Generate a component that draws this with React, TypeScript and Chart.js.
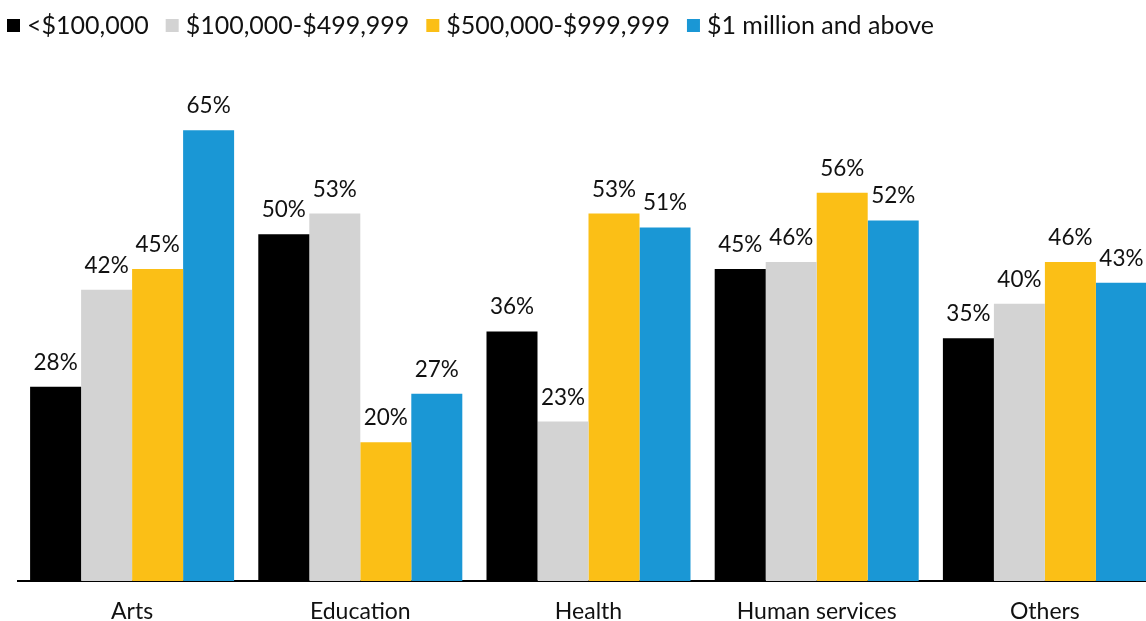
import React, { useEffect, useRef } from "react";
import { Chart, registerables } from "chart.js";

Chart.register(...registerables);

const categories = ["Arts", "Education", "Health", "Human services", "Others"];
const seriesLabels = ["<$100,000", "$100,000-$499,999", "$500,000-$999,999", "$1 million and above"];
const under100k = [28, 50, 36, 45, 35];
const from100kTo500k = [42, 53, 23, 46, 40];
const from500kTo1m = [45, 20, 53, 56, 46];
const over1m = [65, 27, 51, 52, 43];
const seriesColors = ["#000000", "#d3d3d3", "#fbbf16", "#1a97d5"];

const FONT = "Lato, 'Noto Sans', sans-serif";

const legendPlugin = {
  id: "customLegend",
  afterDraw(chart: any) {
    const ctx = chart.ctx;
    ctx.save();
    ctx.font = `25px ${FONT}`;
    ctx.textBaseline = "middle";
    ctx.textAlign = "left";
    let x = 7;
    const cy = 25;
    chart.data.datasets.forEach((ds: any) => {
      ctx.fillStyle = ds.backgroundColor;
      ctx.fillRect(x, cy - 6, 13, 13);
      x += 13 + 7;
      ctx.fillStyle = "#111";
      ctx.fillText(ds.label, x, cy + 1);
      x += ctx.measureText(ds.label).width + 17;
    });
    ctx.restore();
  },
};

const valueLabelPlugin = {
  id: "valueLabels",
  afterDatasetsDraw(chart: any) {
    const ctx = chart.ctx;
    ctx.save();
    ctx.font = `22.5px ${FONT}`;
    ctx.fillStyle = "#111";
    ctx.textAlign = "center";
    ctx.textBaseline = "alphabetic";
    chart.data.datasets.forEach((ds: any, i: number) => {
      const meta = chart.getDatasetMeta(i);
      meta.data.forEach((el: any, j: number) => {
        ctx.fillText(`${ds.data[j]}%`, el.x, el.y - 17);
      });
    });
    ctx.restore();
  },
};

export default function App() {
  const canvasRef = useRef<HTMLCanvasElement | null>(null);

  useEffect(() => {
    let chart: Chart | null = null;
    let cancelled = false;
    const build = () => {
      if (cancelled || !canvasRef.current) return;
      const seriesData = [under100k, from100kTo500k, from500kTo1m, over1m];
      chart = new Chart(canvasRef.current, {
        type: "bar",
        data: {
          labels: categories,
          datasets: seriesLabels.map((label, i) => ({
            label,
            data: seriesData[i],
            backgroundColor: seriesColors[i],
            borderWidth: 0,
            categoryPercentage: 0.894,
            barPercentage: 1,
          })),
        },
        options: {
          animation: false,
          responsive: false,
          maintainAspectRatio: false,
          layout: { padding: { top: 61, left: 18, right: 3, bottom: 0 } },
          plugins: {
            legend: { display: false },
            tooltip: { enabled: false },
          },
          scales: {
            x: {
              grid: { display: false, drawTicks: false },
              border: { display: true, color: "#000", width: 2 },
              afterFit(scale: any) {
                scale.height = 40;
              },
              ticks: {
                color: "#111",
                padding: 17,
                font: { family: FONT, size: 23, lineHeight: 1.2 },
              },
            },
            y: {
              display: false,
              min: 0,
              max: 75,
            },
          },
        },
        plugins: [legendPlugin, valueLabelPlugin],
      });
    };
    const fonts = (document as any).fonts;
    if (fonts && fonts.load) {
      Promise.all([fonts.load(`20px Lato`), fonts.load(`24px Lato`)]).then(build, build);
    } else {
      build();
    }
    return () => {
      cancelled = true;
      if (chart) chart.destroy();
    };
  }, []);

  return (
    <div
      style={{
        position: "fixed",
        left: 0,
        top: 0,
        width: 1146,
        height: 621,
        overflow: "hidden",
        background: "#fff",
      }}
    >
      <canvas ref={canvasRef} width={1162} height={621} style={{ display: "block" }} />
    </div>
  );
}
